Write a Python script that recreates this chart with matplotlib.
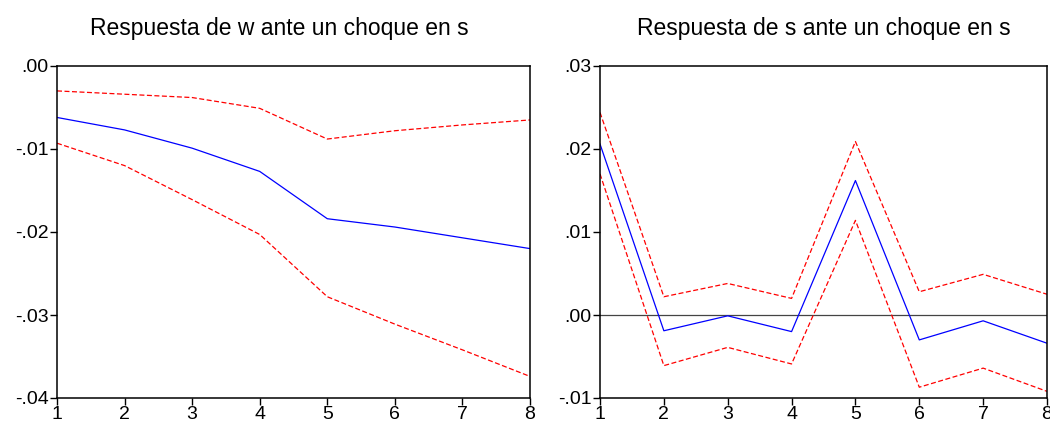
import numpy as np
import matplotlib.pyplot as plt

plt.rcParams['font.family'] = ['Liberation Sans', 'DejaVu Sans']

periods = [1, 2, 3, 4, 5, 6, 7, 8]

# Respuesta de w ante un choque en s
w_resp = [-0.0062, -0.0077, -0.0099, -0.0127, -0.0184, -0.0194, -0.0207, -0.0220]
w_upper = [-0.0030, -0.0034, -0.0038, -0.0051, -0.0088, -0.0078, -0.0071, -0.0065]
w_lower = [-0.0093, -0.0120, -0.0161, -0.0203, -0.0278, -0.0311, -0.0342, -0.0374]

# Respuesta de s ante un choque en s
s_resp = [0.0206, -0.0019, -0.0001, -0.0020, 0.0162, -0.0030, -0.0007, -0.0034]
s_upper = [0.0244, 0.0022, 0.0038, 0.0020, 0.0209, 0.0028, 0.0049, 0.0025]
s_lower = [0.0170, -0.0061, -0.0039, -0.0059, 0.0114, -0.0087, -0.0064, -0.0092]

w_yticks = [0.00, -0.01, -0.02, -0.03, -0.04]
w_ylabels = ['.00', '-.01', '-.02', '-.03', '-.04']
s_yticks = [0.03, 0.02, 0.01, 0.00, -0.01]
s_ylabels = ['.03', '.02', '.01', '.00', '-.01']

W, H = 1050, 424
fig = plt.figure(figsize=(W / 100, H / 100), dpi=100)


def make_axes(left, right, top, bottom):
    return fig.add_axes([left / W, 1 - bottom / H, (right - left) / W, (bottom - top) / H])


def draw_panel(ax, resp, upper, lower, yticks, ylabels, ylim, title, title_x, zero_line):
    if zero_line:
        ax.axhline(0, color='#444444', lw=0.9, zorder=1)
    ax.plot(periods, upper, color='#ff0000', lw=0.9, ls=(0, (4, 2)))
    ax.plot(periods, lower, color='#ff0000', lw=0.9, ls=(0, (4, 2)))
    ax.plot(periods, resp, color='#0000ff', lw=0.9)
    ax.set_xlim(1, 8)
    ax.set_ylim(*ylim)
    ax.set_xticks(periods)
    ax.set_yticks(yticks)
    ax.set_yticklabels(ylabels)
    ax.tick_params(direction='out', length=5, width=1, labelsize=14, pad=1)
    for sp in ax.spines.values():
        sp.set_linewidth(1.1)
    ax.set_title(title, fontsize=16.5, pad=22, x=title_x)


ax1 = make_axes(57, 530, 66, 398)
draw_panel(ax1, w_resp, w_upper, w_lower, w_yticks, w_ylabels, (-0.04, 0.0),
           'Respuesta de w ante un choque en s', 0.47, False)

ax2 = make_axes(600, 1047, 66, 398)
draw_panel(ax2, s_resp, s_upper, s_lower, s_yticks, s_ylabels, (-0.01, 0.03),
           'Respuesta de s ante un choque en s', 0.5, True)

fig.savefig('out.png', dpi=100)
